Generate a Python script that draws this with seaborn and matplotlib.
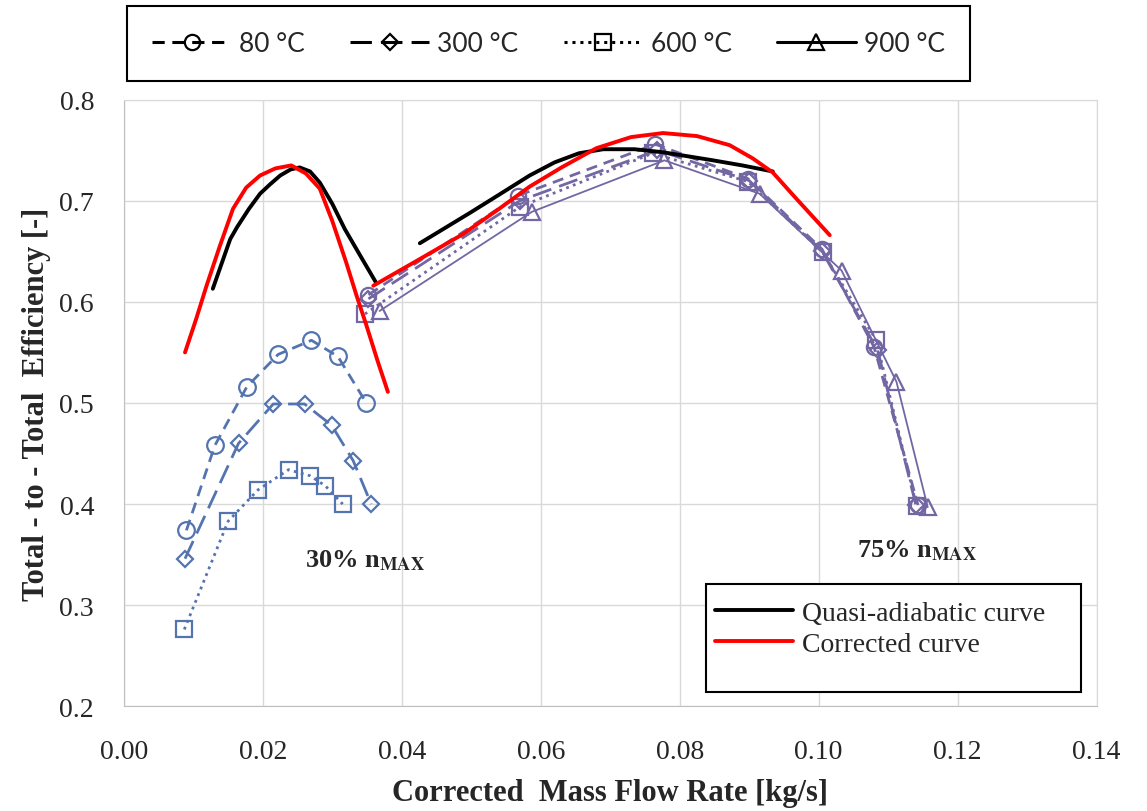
import matplotlib
matplotlib.use("Agg")
import matplotlib.pyplot as plt
from matplotlib.lines import Line2D
from matplotlib.patches import Rectangle
import seaborn as sns

# ---- data ----
# 30% n_MAX speed line
x30_80 = [0.0090, 0.0131, 0.0177, 0.0222, 0.0270, 0.0308, 0.0349]
y30_80 = [0.374, 0.458, 0.516, 0.548, 0.562, 0.546, 0.500]
x30_300 = [0.0088, 0.0165, 0.0215, 0.0260, 0.0299, 0.0330, 0.0356]
y30_300 = [0.346, 0.460, 0.499, 0.499, 0.478, 0.443, 0.400]
x30_600 = [0.0087, 0.0150, 0.0193, 0.0237, 0.0268, 0.0290, 0.0315]
y30_600 = [0.276, 0.383, 0.414, 0.434, 0.428, 0.418, 0.400]

# 75% n_MAX speed line
x75_80 = [0.0352, 0.0567, 0.0765, 0.0898, 0.1005, 0.1080, 0.1143]
y75_80 = [0.607, 0.705, 0.756, 0.722, 0.652, 0.555, 0.399]
x75_300 = [0.0352, 0.0570, 0.0768, 0.0900, 0.1005, 0.1085, 0.1140]
y75_300 = [0.603, 0.700, 0.750, 0.720, 0.650, 0.552, 0.399]
x75_600 = [0.0347, 0.0570, 0.0761, 0.0898, 0.1006, 0.1083, 0.1141]
y75_600 = [0.588, 0.694, 0.747, 0.719, 0.649, 0.562, 0.398]
x75_900 = [0.0368, 0.0587, 0.0778, 0.0915, 0.1033, 0.1112, 0.1157]
y75_900 = [0.591, 0.689, 0.740, 0.707, 0.631, 0.521, 0.397]

# quasi-adiabatic (black) and corrected (red) curves
xq_30 = [0.0128, 0.0153, 0.0163, 0.0180, 0.0196, 0.0210, 0.0225, 0.0240, 0.0253,
         0.0268, 0.0282, 0.0300, 0.0318, 0.0340, 0.0363]
yq_30 = [0.613, 0.662, 0.674, 0.692, 0.707, 0.716, 0.725, 0.731, 0.733,
         0.729, 0.718, 0.697, 0.672, 0.646, 0.619]
xc_30 = [0.0088, 0.0104, 0.0119, 0.0138, 0.0157, 0.0176, 0.0196, 0.0218, 0.0241,
         0.0262, 0.0282, 0.0300, 0.0320, 0.0335, 0.0349, 0.0365, 0.0380]
yc_30 = [0.550, 0.583, 0.616, 0.655, 0.692, 0.713, 0.725, 0.732, 0.735,
         0.727, 0.712, 0.680, 0.639, 0.606, 0.577, 0.542, 0.511]
xq_75 = [0.0426, 0.0462, 0.0498, 0.0540, 0.0584, 0.0620, 0.0655, 0.0690, 0.0735,
         0.0776, 0.0812, 0.0848, 0.0890, 0.0934]
yq_75 = [0.658, 0.673, 0.688, 0.706, 0.725, 0.738, 0.747, 0.751, 0.751,
         0.748, 0.744, 0.740, 0.735, 0.729]
xc_75 = [0.0359, 0.0420, 0.0488, 0.0540, 0.0584, 0.0630, 0.0680, 0.0730, 0.0776,
         0.0825, 0.0872, 0.0905, 0.0934, 0.0968, 0.1016]
yc_75 = [0.616, 0.640, 0.667, 0.692, 0.714, 0.733, 0.752, 0.763, 0.767,
         0.764, 0.755, 0.742, 0.728, 0.702, 0.666]

temps = ["80 °C", "300 °C", "600 °C", "900 °C"]
markers = ["o", "D", "s", "^"]
styles = [(0, (4, 2.5)), (0, (7, 3)), (0, (1, 1.6)), "-"]
curve_labels = ["Quasi-adiabatic curve", "Corrected curve"]

blue = "#5474b0"
purple = "#7266a3"
serif = "Liberation Serif"

sns.set_style("whitegrid")
plt.rcParams["mathtext.fontset"] = "stix"

fig = plt.figure(figsize=(11.47, 8.12), dpi=100)
ax = fig.add_axes([0.108, 0.129, 0.848, 0.747])

def series(x, y, marker, ls, color, ms, lw=2.0):
    sns.lineplot(x=x, y=y, ax=ax, sort=False, color=color, linestyle=ls, lw=lw,
                 marker=marker, markersize=ms, markerfacecolor="none",
                 markeredgecolor=color, markeredgewidth=1.6)

# 30 % line
series(x30_80, y30_80, "o", styles[0], blue, 12)
series(x30_300, y30_300, "D", styles[1], blue, 8)
series(x30_600, y30_600, "s", styles[2], blue, 11)
# 75 % line
series(x75_80, y75_80, "o", styles[0], purple, 11)
series(x75_300, y75_300, "D", styles[1], purple, 8)
series(x75_600, y75_600, "s", styles[2], purple, 12)
series(x75_900, y75_900, "^", styles[3], purple, 12, lw=1.3)

# curves
for xs, ys, c in [(xq_30, yq_30, "black"), (xc_30, yc_30, "#ff0000"),
                  (xq_75, yq_75, "black"), (xc_75, yc_75, "#ff0000")]:
    sns.lineplot(x=xs, y=ys, ax=ax, sort=False, color=c, lw=2.8)

ax.set_xlim(0, 0.14)
ax.set_ylim(0.2, 0.8)
ax.set_xticks([0, 0.02, 0.04, 0.06, 0.08, 0.10, 0.12, 0.14])
ax.set_xticklabels(["0.00", "0.02", "0.04", "0.06", "0.08", "0.10", "0.12", "0.14"])
ax.set_yticks([0.2, 0.3, 0.4, 0.5, 0.6, 0.7, 0.8])
ax.set_yticklabels(["0.2", "0.3", "0.4", "0.5", "0.6", "0.7", "0.8"])
for lab in ax.get_xticklabels() + ax.get_yticklabels():
    lab.set_fontfamily(serif)
    lab.set_fontsize(20)
ax.tick_params(axis="x", pad=20)
ax.tick_params(axis="y", pad=18)
ax.grid(color="#d9d9d9", lw=1)
for s in ax.spines.values():
    s.set_color("#d9d9d9")
ax.spines["left"].set_color("#bfbfbf")
ax.spines["bottom"].set_color("#bfbfbf")

ax.set_xlabel("Corrected  Mass Flow Rate [kg/s]", fontfamily=serif, fontsize=22,
              fontweight="bold")
ax.set_ylabel("Total - to - Total  Efficiency [-]", fontfamily=serif, fontsize=22,
              fontweight="bold")
ax.xaxis.set_label_coords(0.5, -0.118)
ax.yaxis.set_label_coords(-0.075, 0.5)

ax.text(0.0347, 0.345, r"30% n$_{\mathbf{MAX}}$", fontfamily=serif, fontsize=19,
        fontweight="bold", ha="center", va="center")
ax.text(0.1142, 0.355, r"75% n$_{\mathbf{MAX}}$", fontfamily=serif, fontsize=19,
        fontweight="bold", ha="center", va="center")

# curve legend (box drawn separately so it keeps the reference size)
box = Rectangle((0.598, 0.023), 0.3865, 0.178, transform=ax.transAxes,
                facecolor="white", edgecolor="black", lw=1.5, zorder=5)
ax.add_patch(box)
curve_handles = [Line2D([], [], color="black", lw=2.8),
                 Line2D([], [], color="#ff0000", lw=2.8)]
ax.legend(curve_handles, curve_labels, loc="upper left",
          bbox_to_anchor=(0.582, 0.216), frameon=False, handlelength=2.8,
          handletextpad=0.35, labelspacing=0.2,
          prop={"family": serif, "size": 20})

# temperature legend on top
temp_handles = [Line2D([], [], color="black", linestyle=ls, lw=2.2, marker=m,
                       markersize=11 if m != "D" else 8, markerfacecolor="none",
                       markeredgewidth=1.6)
                for ls, m in zip(styles, markers)]
fig.legend(temp_handles, temps, loc="center", bbox_to_anchor=(0.1107, 0.900, 0.735, 0.09),
           mode="expand", ncol=4, frameon=True, fancybox=False, edgecolor="black",
           framealpha=1, handlelength=3.0, handletextpad=0.3, borderpad=0.95,
           borderaxespad=0, prop={"family": "Lato", "size": 19}).get_frame().set_linewidth(1.5)

fig.savefig("out.png", dpi=100)
